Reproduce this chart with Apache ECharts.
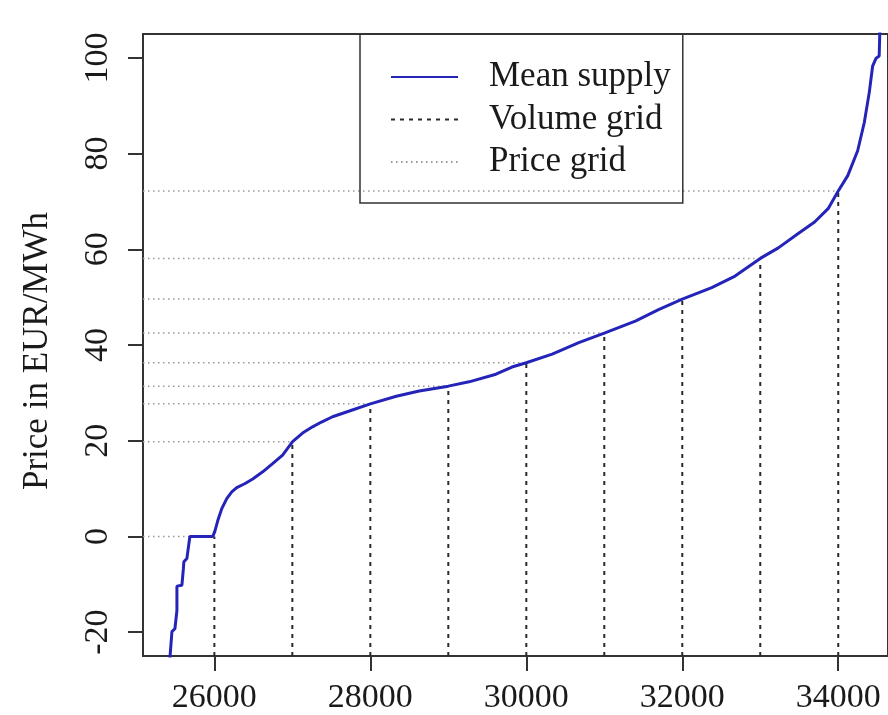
<!DOCTYPE html>
<html>
<head>
<meta charset="utf-8">
<script src="https://cdn.jsdelivr.net/npm/echarts@6/dist/echarts.min.js"></script>
<style>
  html, body { margin: 0; padding: 0; background: #fff; }
  #main { width: 888px; height: 715px; }
</style>
</head>
<body>
<div id="main"></div>
<script>
// mean supply curve
const supplyVolume = [25430, 25456, 25494, 25520, 25520, 25584, 25603, 25609, 25648, 25686,
  25980, 26005, 26044, 26095, 26159, 26223, 26287, 26389, 26492, 26620,
  26747, 26875, 27003, 27131, 27259, 27374, 27515, 27732, 28000, 28333,
  28627, 29000, 29266, 29611, 29816, 30000, 30332, 30673, 31000, 31398,
  31696, 32000, 32378, 32677, 33000, 33232, 33487, 33697, 33870, 34000,
  34122, 34249, 34334, 34398, 34441, 34484, 34525, 34534];
const supplyPrice = [-25.5, -19.9, -19.3, -15.5, -10.4, -10.2, -6.7, -5.3, -4.6, 0,
  0, 1, 3.3, 5.8, 7.9, 9.3, 10.2, 11, 12, 13.5,
  15.2, 17, 19.8, 21.6, 22.9, 23.9, 25, 26.2, 27.7, 29.3,
  30.4, 31.4, 32.3, 33.9, 35.4, 36.3, 38.1, 40.5, 42.5, 45.0,
  47.4, 49.6, 52, 54.4, 58.1, 60.3, 63.3, 65.7, 68.5, 72.2,
  75.4, 80.6, 86.5, 92.8, 98.3, 99.9, 100.4, 106];

// volume grid and matching price grid
const gridVolumes = [26000, 27000, 28000, 29000, 30000, 31000, 32000, 33000, 34000];
const gridPrices = [0, 19.8, 27.7, 31.4, 36.3, 42.5, 49.6, 58.1, 72.2];

const xTicks = [26000, 28000, 30000, 32000, 34000];
const yTicks = [-20, 0, 20, 40, 60, 80, 100];

const xMin = 25085, xMax = 34638;
const yMin = -25, yMax = 105;

const font = "Liberation Serif";
const blue = "#2424b8";

var series = [];

// dashed vertical lines
for (var i = 0; i < gridVolumes.length; i++) {
  series.push({
    name: "Volume grid",
    type: "line",
    symbol: "none",
    silent: true,
    z: 2,
    itemStyle: { color: "#333" },
    lineStyle: { color: "#2a2a2a", width: 2, type: [4, 5] },
    data: [[gridVolumes[i], yMin], [gridVolumes[i], gridPrices[i]]],
  });
}

// dotted horizontal lines
for (var j = 0; j < gridPrices.length; j++) {
  series.push({
    name: "Price grid",
    type: "line",
    symbol: "none",
    silent: true,
    z: 2,
    itemStyle: { color: "#999" },
    lineStyle: { color: "#999", width: 1.5, type: [1.5, 3.5] },
    data: [[xMin, gridPrices[j]], [gridVolumes[j], gridPrices[j]]],
  });
}

series.push({
  name: "Mean supply",
  type: "line",
  symbol: "none",
  z: 3,
  lineStyle: { color: blue, width: 3 },
  itemStyle: { color: blue },
  data: supplyVolume.map(function (v, k) { return [v, supplyPrice[k]]; }),
});

var myChart = echarts.init(document.getElementById("main"));

var option = {
  animation: false,
  backgroundColor: "#fff",
  grid: {
    left: 143,
    top: 34,
    right: -2,
    bottom: 58,
    show: true,
    borderColor: "#333",
    borderWidth: 2,
  },
  legend: {
    orient: "vertical",
    left: 360,
    top: 34,
    padding: [25, 12, 23, 30],
    itemWidth: 67,
    itemHeight: 14,
    itemGap: 6.5,
    borderColor: "#333",
    borderWidth: 1.5,
    borderRadius: 0,
    itemStyle: { opacity: 0, borderWidth: 0 },
    data: ["Mean supply", "Volume grid", "Price grid"],
    textStyle: {
      fontFamily: font,
      fontSize: 35,
      lineHeight: 36,
      color: "#1a1a1a",
      padding: [0, 0, 0, 26],
    },
  },
  xAxis: {
    type: "value",
    min: xMin,
    max: xMax,
    splitLine: { show: false },
    axisLine: { show: true, onZero: false, lineStyle: { color: "#333", width: 2 } },
    axisTick: {
      show: true,
      customValues: xTicks,
      length: 15,
      lineStyle: { color: "#333", width: 2 },
    },
    axisLabel: {
      customValues: xTicks,
      margin: 25,
      fontFamily: font,
      fontSize: 34,
      color: "#1a1a1a",
      formatter: function (v) { return String(v); },
    },
  },
  yAxis: {
    type: "value",
    min: yMin,
    max: yMax,
    name: "Price in EUR/MWh",
    nameLocation: "middle",
    nameRotate: 90,
    nameGap: 88,
    nameTextStyle: { fontFamily: font, fontSize: 35, color: "#1a1a1a", padding: [0, 12, 0, 0] },
    splitLine: { show: false },
    axisLine: { show: true, onZero: false, lineStyle: { color: "#333", width: 2 } },
    axisTick: {
      show: true,
      customValues: yTicks,
      length: 15,
      lineStyle: { color: "#333", width: 2 },
    },
    axisLabel: {
      customValues: yTicks,
      rotate: 90,
      margin: 28,
      fontFamily: font,
      fontSize: 34,
      color: "#1a1a1a",
      formatter: function (v) { return String(v); },
    },
  },
  series: series,
};

myChart.setOption(option);
</script>
</body>
</html>
